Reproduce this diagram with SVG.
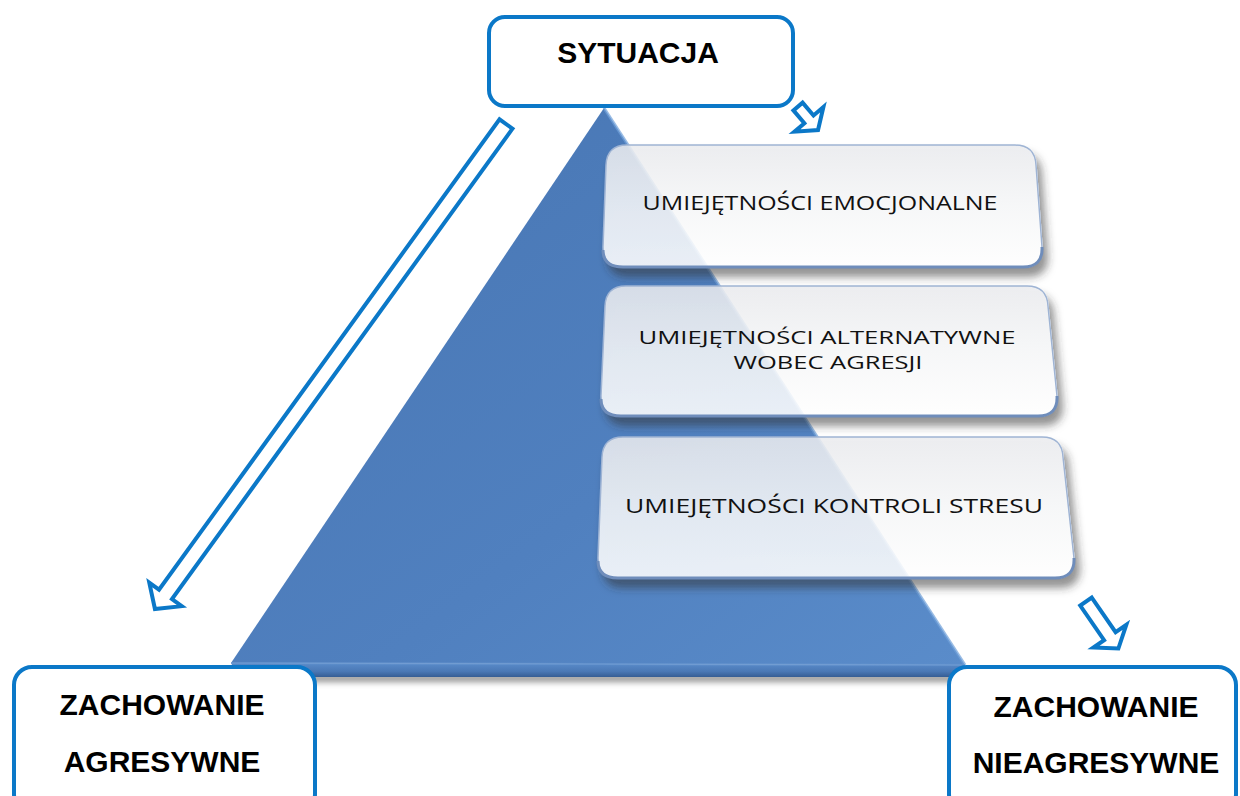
<svg xmlns="http://www.w3.org/2000/svg" width="1240" height="796" viewBox="0 0 1240 796">
  <defs>
    <linearGradient id="triGrad" x1="0" y1="0" x2="1" y2="1">
      <stop offset="0" stop-color="#4775b2"/>
      <stop offset="0.6" stop-color="#5080bf"/>
      <stop offset="1" stop-color="#5a8cca"/>
    </linearGradient>
    <linearGradient id="baseGrad" x1="0" y1="0" x2="0" y2="1">
      <stop offset="0" stop-color="#5a8cca"/>
      <stop offset="0.6" stop-color="#4a78b5"/>
      <stop offset="1" stop-color="#355d94"/>
    </linearGradient>
    <linearGradient id="plateGrad" x1="0" y1="0" x2="0" y2="1">
      <stop offset="0" stop-color="#eaebee"/>
      <stop offset="0.5" stop-color="#f6f7f8"/>
      <stop offset="1" stop-color="#ffffff"/>
    </linearGradient>
    <filter id="plateShadow" x="-10%" y="-20%" width="125%" height="150%">
      <feGaussianBlur in="SourceAlpha" stdDeviation="4"/>
      <feOffset dx="5" dy="9" result="b"/>
      <feFlood flood-color="#303030" flood-opacity="0.6"/>
      <feComposite in2="b" operator="in" result="s"/>
      <feComposite in="s" in2="SourceAlpha" operator="out" result="so"/>
      <feMerge><feMergeNode in="so"/><feMergeNode in="SourceGraphic"/></feMerge>
    </filter>
    <filter id="blur4" x="-10%" y="-100%" width="120%" height="300%">
      <feGaussianBlur stdDeviation="3"/>
    </filter>
  </defs>
  <style>
    .box { fill: #ffffff; stroke: #0b78c8; stroke-width: 4; }
    .big { font-family: "Liberation Sans", Arial, sans-serif; font-weight: bold; font-size: 30px; fill: #000000; text-anchor: middle; }
    .plate { fill: url(#plateGrad); fill-opacity: 0.87; stroke: #9fb4d4; stroke-width: 1.5; }
    .plateEdge { fill: none; stroke: #6f8dbb; stroke-width: 3; }
    .skill { font-family: "Open Sans", "Noto Sans", "DejaVu Sans", sans-serif; font-size: 20px; fill: #111111; text-anchor: middle; }
    .skill2 { font-size: 18.5px; }
    .arrow { fill: #ffffff; stroke: #0b78c8; stroke-width: 4; stroke-linejoin: miter; }
  </style>

  <!-- pyramid background -->
  <g id="pyramid">
    <rect x="240" y="674" width="715" height="8" fill="#7a7a7a" filter="url(#blur4)" opacity="0.8"/>
    <polygon points="231,663 965,665 957,677 238,677" fill="url(#baseGrad)"/>
    <polygon points="604,108 231,663 965,665" fill="url(#triGrad)"/>
    <line x1="604" y1="108" x2="965" y2="665" stroke="#6fa0da" stroke-width="3" opacity="0.7"/>
    <line x1="231" y1="663" x2="965" y2="665" stroke="#6d9ad2" stroke-width="2" opacity="0.7"/>
  </g>

  <!-- skill plates -->
  <g id="skill-emocjonalne">
    <path class="plate" filter="url(#plateShadow)" d="M627,145 H1015 Q1035,145 1036,165 L1042,247 Q1043,267 1023,267 H623 Q603,267 603,247 L606,165 Q607,145 627,145 Z"/>
    <path class="plateEdge" d="M603,250 Q603,267 623,267 H1023 Q1043,267 1042,247"/>
    <text class="skill" x="820" y="210" textLength="355" lengthAdjust="spacingAndGlyphs">UMIEJĘTNOŚCI EMOCJONALNE</text>
  </g>
  <g id="skill-alternatywne">
    <path class="plate" filter="url(#plateShadow)" d="M626,286 H1027 Q1047,286 1048,306 L1057,396 Q1058,416 1038,416 H621 Q601,416 601,396 L605,306 Q606,286 626,286 Z"/>
    <path class="plateEdge" d="M601,399 Q601,416 621,416 H1038 Q1058,416 1057,396"/>
    <text class="skill skill2" x="827" y="344" textLength="377" lengthAdjust="spacingAndGlyphs">UMIEJĘTNOŚCI ALTERNATYWNE</text>
    <text class="skill skill2" x="828" y="369" textLength="189" lengthAdjust="spacingAndGlyphs">WOBEC AGRESJI</text>
  </g>
  <g id="skill-stres">
    <path class="plate" filter="url(#plateShadow)" d="M623,437 H1042 Q1062,437 1063,457 L1074,558 Q1075,578 1055,578 H618 Q598,578 598,558 L602,457 Q603,437 623,437 Z"/>
    <path class="plateEdge" d="M598,561 Q598,578 618,578 H1055 Q1075,578 1074,558"/>
    <text class="skill" x="834" y="513" textLength="418" lengthAdjust="spacingAndGlyphs">UMIEJĘTNOŚCI KONTROLI STRESU</text>
  </g>

  <!-- connectors -->
  <g id="connectors">
    <polygon class="arrow" transform="translate(506,124) rotate(125.9)" points="0,-8 580.7,-8 580.7,-20 598.7,0 580.7,20 580.7,8 0,8"/>
    <polygon class="arrow" transform="translate(798,106.5) rotate(49.6)" points="0,-6 16.9,-6 16.9,-19 30.9,0 16.9,19 16.9,6 0,6"/>
    <polygon class="arrow" transform="translate(1086,601.6) rotate(55.4)" points="0,-7 42,-7 42,-20 57,0 42,20 42,7 0,7"/>
  </g>

  <!-- nodes -->
  <g id="sytuacja">
    <rect class="box" x="489" y="17" width="304" height="89" rx="16"/>
    <text class="big" x="638" y="63">SYTUACJA</text>
  </g>
  <g id="zachowanie-agresywne">
    <rect class="box" x="14" y="667" width="301" height="145" rx="18"/>
    <text class="big" x="162" y="715">ZACHOWANIE</text>
    <text class="big" x="162" y="772">AGRESYWNE</text>
  </g>
  <g id="zachowanie-nieagresywne">
    <rect class="box" x="949" y="667" width="287" height="145" rx="18"/>
    <text class="big" x="1096" y="717">ZACHOWANIE</text>
    <text class="big" x="1096" y="773">NIEAGRESYWNE</text>
  </g>
</svg>
